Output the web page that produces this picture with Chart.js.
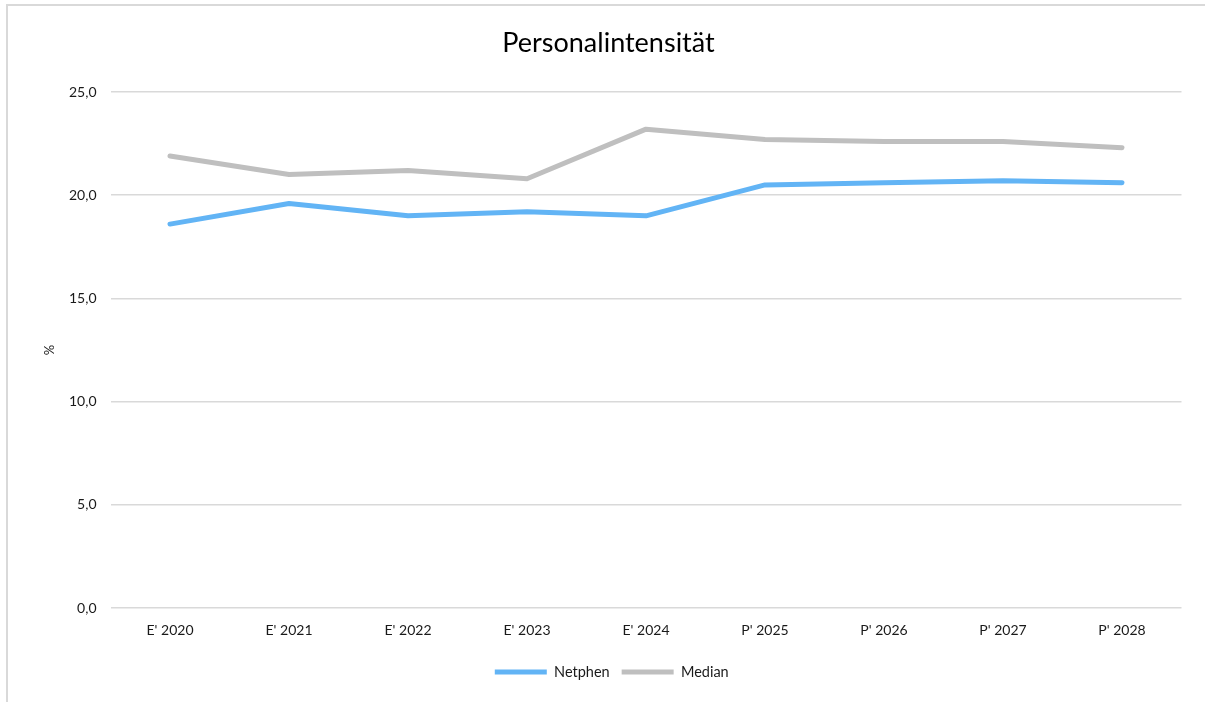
<!DOCTYPE html>
<html>
<head>
<meta charset="utf-8">
<script src="https://cdn.jsdelivr.net/npm/chart.js@4/dist/chart.umd.min.js"></script>
<style>
  html, body { margin: 0; padding: 0; background: #fff; }
  #wrap { position: absolute; left: 0; top: 0; width: 1205px; height: 702px; }
</style>
</head>
<body>
<div id="wrap"><canvas id="c" width="1205" height="702"></canvas></div>
<script>
const chartTitle = 'Personalintensität';
const yAxisTitle = '%';
const categories = ["E' 2020", "E' 2021", "E' 2022", "E' 2023", "E' 2024", "P' 2025", "P' 2026", "P' 2027", "P' 2028"];
const seriesNames = ['Netphen', 'Median'];
const netphenValues = [18.6, 19.6, 19.0, 19.2, 19.0, 20.5, 20.6, 20.7, 20.6];
const medianValues = [21.9, 21.0, 21.2, 20.8, 23.2, 22.7, 22.6, 22.6, 22.3];
const yTickValues = [0, 5, 10, 15, 20, 25];
const yTickLabels = ['0,0', '5,0', '10,0', '15,0', '20,0', '25,0'];

const FONT = 'Lato, "Open Sans", sans-serif';
const TEXT = '#1a1a1a';

const borderPlugin = {
  id: 'outerBorder',
  afterLayout(chart) {
    if (chart.titleBlock) { chart.titleBlock.left += 17.75; chart.titleBlock.right += 17.75; }
    if (chart.legend) { chart.legend.left += 21; chart.legend.right += 21; }
  },
  beforeDraw(chart) {
    const ctx = chart.ctx;
    ctx.save();
    ctx.strokeStyle = '#d9d9d9';
    ctx.lineWidth = 2;
    ctx.beginPath();
    ctx.moveTo(7, 702);
    ctx.lineTo(7, 5);
    ctx.lineTo(1205, 5);
    ctx.stroke();
    ctx.restore();
  }
};

new Chart(document.getElementById('c'), {
  type: 'line',
  data: {
    labels: categories,
    datasets: [
      {
        label: seriesNames[0],
        data: netphenValues,
        borderColor: '#62b4f5',
        backgroundColor: '#62b4f5',
        borderWidth: 5,
        borderCapStyle: 'round',
        borderJoinStyle: 'round',
        pointRadius: 0,
        pointHoverRadius: 0,
        tension: 0,
        pointStyle: 'line'
      },
      {
        label: seriesNames[1],
        data: medianValues,
        borderColor: '#bfbfbf',
        backgroundColor: '#bfbfbf',
        borderWidth: 5,
        borderCapStyle: 'round',
        borderJoinStyle: 'round',
        pointRadius: 0,
        pointHoverRadius: 0,
        tension: 0,
        pointStyle: 'line'
      }
    ]
  },
  options: {
    responsive: false,
    animation: false,
    devicePixelRatio: 1,
    layout: { padding: { left: 0, right: 23.5, top: 4, bottom: 12.7 } },
    plugins: {
      title: {
        display: true,
        text: chartTitle,
        color: '#000',
        font: { family: FONT, size: 27, weight: 'normal' },
        padding: { top: 23, bottom: 32.6 }
      },
      legend: {
        display: true,
        position: 'bottom',
        labels: {
          usePointStyle: true,
          pointStyleWidth: 52,
          boxHeight: 14,
          color: TEXT,
          font: { family: FONT, size: 14.5 },
          padding: 12
        }
      },
      tooltip: { enabled: false }
    },
    scales: {
      x: {
        offset: true,
        grid: { display: false, drawTicks: false, offset: true },
        border: { display: false },
        ticks: { color: TEXT, font: { family: FONT, size: 14 }, padding: 14, maxRotation: 0 }
      },
      y: {
        min: 0,
        max: 25,
        afterBuildTicks(scale) {
          scale.ticks = yTickValues.map(v => ({ value: v }));
        },
        afterFit(scale) { scale.width = 110.5; },
        grid: { color: '#d9d9d9', lineWidth: 1.5, drawTicks: false },
        border: { display: false },
        ticks: {
          color: TEXT,
          font: { family: FONT, size: 14 },
          padding: 14,
          callback: (v) => yTickLabels[yTickValues.indexOf(v)]
        },
        title: {
          display: true,
          text: yAxisTitle,
          color: TEXT,
          font: { family: FONT, size: 13 },
          padding: { top: 42, bottom: 0 }
        }
      }
    }
  },
  plugins: [borderPlugin]
});
</script>
</body>
</html>
